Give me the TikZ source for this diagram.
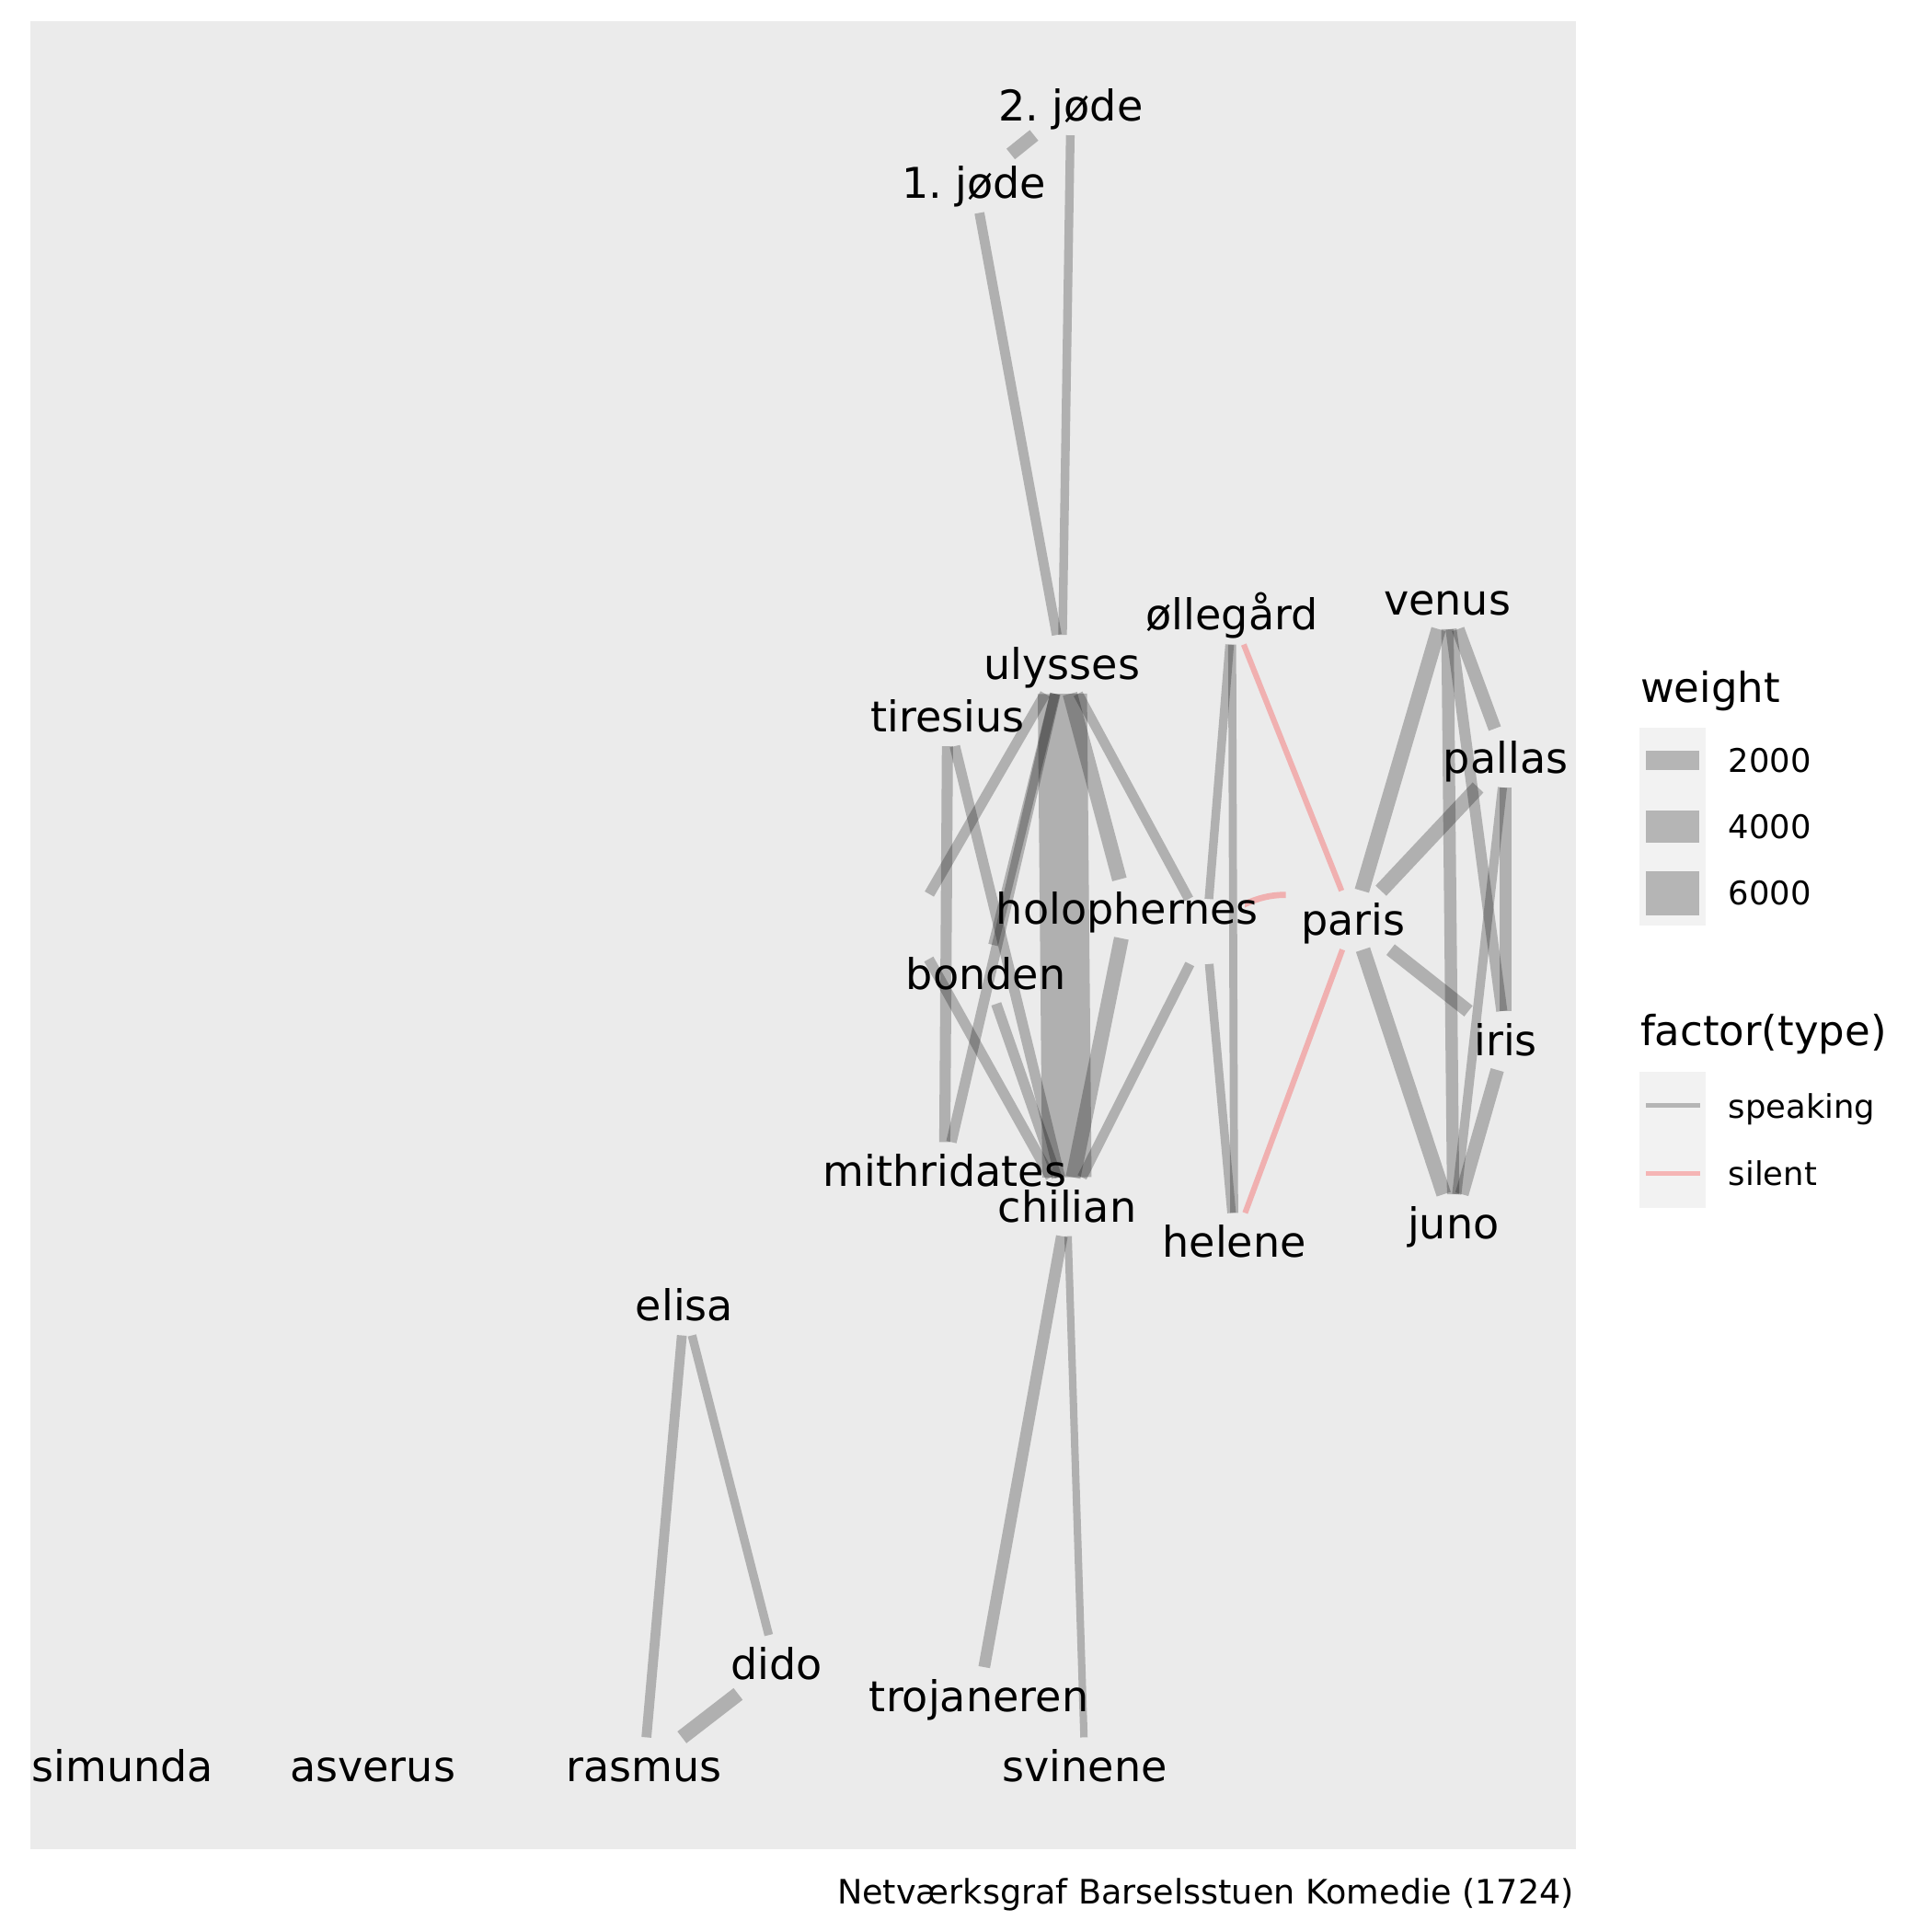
\documentclass[tikz,border=0pt]{standalone}
\usepackage{fontspec}
\setmainfont{DejaVu Sans}
\definecolor{panel}{HTML}{EBEBEB}
\definecolor{keybg}{HTML}{F2F2F2}
\newcommand{\unitpx}{0.5pt}
\pgfdeclarelayer{back}
\pgfdeclarelayer{edges}
\pgfsetlayers{back,edges,main}

\begin{document}
\begin{tikzpicture}[x=0.5pt, y=-0.5pt,
    actor/.style={rectangle, inner xsep=6pt, inner ysep=0pt, minimum height=23.5pt, text height=12.5pt, text depth=0.26pt, font=\fontsize{17.2pt}{20pt}\selectfont},
    ghost/.style={rectangle, inner sep=0pt, minimum height=26pt, minimum width=#1},
    talk/.style={draw=black, draw opacity=0.25, line width=#1*\unitpx},
    mute/.style={draw=red, draw opacity=0.25, line width=#1*\unitpx},
    keytext/.style={anchor=base west, inner sep=0pt, font=\fontsize{13.2pt}{15pt}\selectfont},
    keytitle/.style={anchor=base west, inner sep=0pt, font=\fontsize{16.8pt}{19pt}\selectfont}]

    \begin{pgfonlayer}{back}
    \fill[white] (0,0) rectangle (1568,1568);
    \fill[panel] (25,17) rectangle (1279,1501);
    \end{pgfonlayer}
    \useasboundingbox (0,0) rectangle (1568,1568);

    % characters
    \node[actor] (jode2) at (869,85.9) {2.\ jøde};
    \node[actor] (jode1) at (790.5,148.9) {1.\ jøde};
    \node[actor] (ollegard) at (999.9,499.2) {øllegård};
    \node[actor] (venus) at (1174.5,486.7) {venus};
    \node[actor] (ulysses) at (862,539.2) {ulysses};
    \node[actor] (tiresius) at (769.1,581.7) {tiresius};
    \node[actor] (pallas) at (1222,615.2) {pallas};
    \node[actor] (holophernes) at (914.9,737.6) {holophernes};
    \node[actor] (paris) at (1098.3,746.8) {paris};
    \node[actor] (bonden) at (800.2,790.8) {bonden};
    \node[actor] (iris) at (1222,844.5) {iris};
    \node[actor] (mithridates) at (766.6,950.8) {mithridates};
    \node[actor] (chilian) at (866.1,979.4) {chilian};
    \node[actor] (juno) at (1179.6,993.1) {juno};
    \node[actor] (helene) at (1001.7,1008.3) {helene};
    \node[actor] (elisa) at (555.5,1059.9) {elisa};
    \node[actor] (dido) at (630,1350.9) {dido};
    \node[actor] (trojaneren) at (794.5,1376.9) {trojaneren};
    \node[actor] (simunda) at (99.5,1433.9) {simunda};
    \node[actor] (asverus) at (302.5,1433.9) {asverus};
    \node[actor] (rasmus) at (522.5,1433.9) {rasmus};
    \node[actor] (svinene) at (880.5,1433.9) {svinene};
    % unlabelled ones
    \node[ghost=31pt] (anon1) at (979,756) {};
    \node[ghost=25pt] (anon2) at (739,752) {};
    \coordinate (bend1) at (1056.7,716.6);
    \coordinate (bend2) at (1016.9,719.7);

    \begin{pgfonlayer}{edges}
    \draw[talk=11] (jode1) -- (jode2);
    \draw[talk=8] (jode1) -- (ulysses);
    \draw[talk=7] (jode2) -- (ulysses);

    \draw[talk=40] (ulysses) -- (chilian);
    \draw[talk=12] (ulysses) -- (holophernes);
    \draw[talk=12] (holophernes) -- (chilian);
    \draw[talk=8] (ulysses) -- (anon1);
    \draw[talk=8] (anon1) -- (chilian);
    \draw[talk=8] (ulysses) -- (bonden);
    \draw[talk=8.5] (ulysses) -- (mithridates);
    \draw[talk=8.5] (ulysses) -- (anon2);
    \draw[talk=8.5] (anon2) -- (chilian);
    \draw[talk=9] (tiresius) -- (mithridates);
    \draw[talk=8.5] (tiresius) -- (chilian);
    \draw[talk=8.5] (bonden) -- (chilian);

    \draw[talk=7] (ollegard) -- (anon1);
    \draw[talk=6.5] (ollegard) -- (helene);
    \draw[talk=7] (anon1) -- (helene);
    \draw[mute=4.6] (ollegard) -- (paris);
    \draw[mute=4.6] (paris) -- (helene);
    \begin{scope}[even odd rule]
    \clip (0,0) rectangle (1568,1568)
        (paris.south west) rectangle (paris.north east)
        (anon1.south west) rectangle (anon1.north east);
    \draw[mute=5] (paris.center) .. controls (bend1) and (bend2) .. (anon1.center);
    \end{scope}

    \draw[talk=12] (paris) -- (venus);
    \draw[talk=12] (paris) -- (pallas);
    \draw[talk=11] (paris) -- (iris);
    \draw[talk=12] (paris) -- (juno);
    \draw[talk=10] (venus) -- (juno);
    \draw[talk=9] (venus) -- (iris);
    \draw[talk=10.5] (venus) -- (pallas);
    \draw[talk=7.5] (pallas) -- (juno);
    \draw[talk=10] (pallas) -- (iris);
    \draw[talk=11] (iris) -- (juno);

    \draw[talk=8] (elisa) -- (rasmus);
    \draw[talk=7] (elisa) -- (dido);
    \draw[talk=12] (dido) -- (rasmus);
    \draw[talk=9.5] (chilian) -- (trojaneren);
    \draw[talk=6] (chilian) -- (svinene);
    \end{pgfonlayer}

    % legend: weight
    \node[keytitle] (title-weight) at (1331,570) {weight};
    \fill[keybg] (1330.3,590.4) rectangle (1384.3,751.2);
    \fill[black, opacity=0.25] (1335.8,609.3) rectangle (1378.8,625);
    \fill[black, opacity=0.25] (1335.8,657.8) rectangle (1378.8,683.9);
    \fill[black, opacity=0.25] (1335.8,706.8) rectangle (1378.8,742.7);
    \node[keytext] (key-2000) at (1402.5,626.7) {2000};
    \node[keytext] (key-4000) at (1402.5,680.7) {4000};
    \node[keytext] (key-6000) at (1402.5,734.2) {6000};

    % legend: type
    \node[keytitle] (title-type) at (1331,848.5) {factor(type)};
    \fill[keybg] (1330.3,869.7) rectangle (1384.3,980);
    \draw[talk=3.6] (1336,897) -- (1380,897);
    \draw[mute=3.6] (1336,952.4) -- (1380,952.4);
    \node[keytext] (key-speaking) at (1402.5,907.2) {speaking};
    \node[keytext] (key-silent) at (1402.5,962) {silent};

    \node[anchor=base east, inner sep=0pt, font=\fontsize{13.65pt}{15pt}\selectfont] (caption) at (1278,1545) {Netværksgraf Barselsstuen Komedie (1724)};
\end{tikzpicture}
\end{document}
